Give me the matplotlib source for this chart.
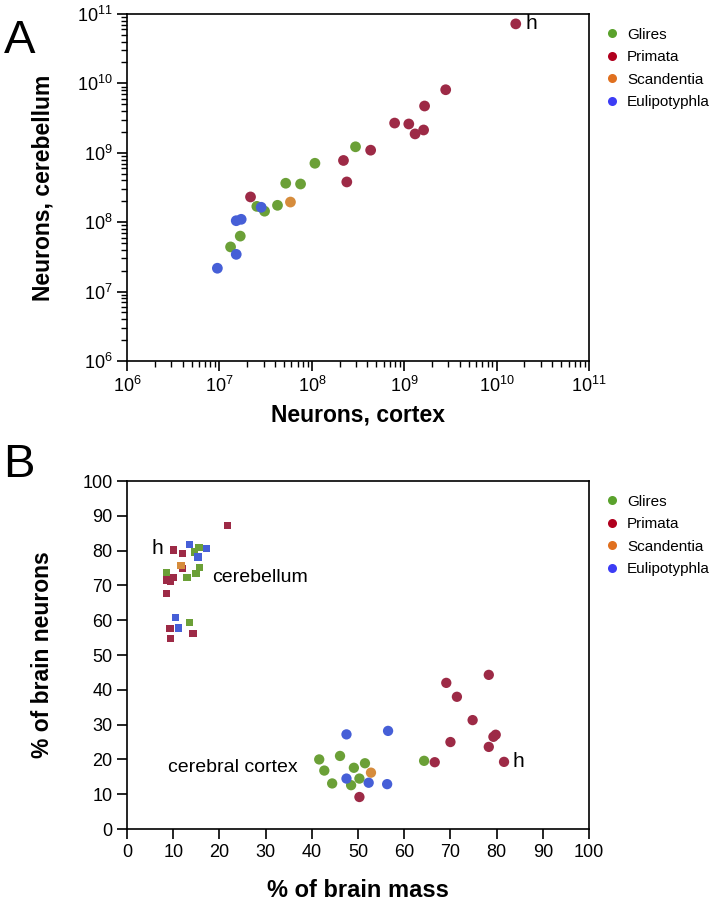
import matplotlib
matplotlib.use("Agg")
import matplotlib.pyplot as plt
import numpy as np
from matplotlib.lines import Line2D
from matplotlib.ticker import LogLocator, NullFormatter

plt.rcParams['font.family'] = ['Liberation Sans', 'DejaVu Sans']
plt.rcParams['mathtext.fontset'] = 'custom'
plt.rcParams['mathtext.rm'] = 'Liberation Sans'

# ---- Panel A: neurons in cortex vs cerebellum ----
glires_ctx = [2.97e8, 1.08e8, 5.22e7, 7.55e7, 4.25e7, 2.54e7, 3.08e7, 1.68e7, 1.32e7]
glires_cb = [1.22e9, 7.06e8, 3.64e8, 3.55e8, 1.75e8, 1.69e8, 1.44e8, 6.3e7, 4.4e7]
primata_ctx = [1.61e10, 2.81e9, 1.66e9, 7.87e8, 1.12e9, 1.62e9, 1.31e9, 4.33e8, 2.2e8, 2.39e8, 2.17e7]
primata_cb = [7.2e10, 8.1e9, 4.72e9, 2.68e9, 2.6e9, 2.13e9, 1.87e9, 1.09e9, 7.75e8, 3.8e8, 2.31e8]
scand_ctx = [5.87e7]
scand_cb = [1.95e8]
euli_ctx = [2.83e7, 1.52e7, 1.72e7, 1.52e7, 9.5e6]
euli_cb = [1.64e8, 1.05e8, 1.1e8, 3.44e7, 2.17e7]

# ---- Panel B: % of brain mass vs % of brain neurons ----
# cerebral cortex (circles)
glires_cx_mass = [41.6, 46.1, 42.7, 49.1, 51.5, 44.4, 48.5, 50.3, 64.3]
glires_cx_neur = [20.0, 21.0, 16.8, 17.6, 18.9, 13.1, 12.6, 14.5, 19.6]
primata_cx_mass = [50.3, 66.6, 69.1, 71.4, 78.3, 74.8, 70.0, 79.8, 79.3, 78.3, 81.6]
primata_cx_neur = [9.2, 19.2, 42.0, 38.0, 44.3, 31.3, 25.0, 27.1, 26.5, 23.6, 19.3]
scand_cx_mass = [52.8]
scand_cx_neur = [16.2]
euli_cx_mass = [47.5, 56.5, 47.5, 52.3, 56.3]
euli_cx_neur = [27.2, 28.2, 14.5, 13.3, 12.9]
# cerebellum (squares)
glires_cb_mass = [15.6, 14.6, 15.7, 14.9, 13.0, 8.6, 13.5]
glires_cb_neur = [80.9, 79.6, 75.1, 73.5, 72.3, 73.8, 59.3]
primata_cb_mass = [21.7, 10.1, 12.0, 12.0, 8.65, 9.4, 10.1, 8.6, 9.3, 14.3, 9.4]
primata_cb_neur = [87.2, 80.2, 79.2, 74.9, 71.6, 71.3, 72.2, 67.7, 57.7, 56.2, 54.8]
scand_cb_mass = [11.7]
scand_cb_neur = [75.8]
euli_cb_mass = [13.5, 17.2, 15.4, 10.5, 11.2]
euli_cb_neur = [81.7, 80.7, 78.2, 60.7, 57.8]

groups = ['Glires', 'Primata', 'Scandentia', 'Eulipotyphla']
pt_colors = ['#6ba037', '#9d2a46', '#d68c3c', '#465fd7']
leg_colors = ['#5aa22c', '#b0001e', '#e0701f', '#3c3cf5']

fig = plt.figure(figsize=(7.16, 9.02), dpi=100)
axA = fig.add_axes([0.1774, 0.5998, 0.6453, 0.3847])
axB = fig.add_axes([0.1774, 0.0809, 0.6453, 0.3858])

def style_axes(ax):
    for s in ax.spines.values():
        s.set_linewidth(1.2)
    ax.tick_params(which='major', direction='out', length=7, width=1.2, labelsize=13)
    ax.tick_params(which='minor', direction='out', length=4, width=1.0)

# panel A
for xs, ys, c in zip([glires_ctx, primata_ctx, scand_ctx, euli_ctx],
                     [glires_cb, primata_cb, scand_cb, euli_cb], pt_colors):
    axA.scatter(xs, ys, s=60, color=c, edgecolors='none', zorder=3)
axA.set_xscale('log')
axA.set_yscale('log')
axA.set_xlim(1e6, 1e11)
axA.set_ylim(1e6, 1e11)
for axis in (axA.xaxis, axA.yaxis):
    axis.set_major_locator(LogLocator(base=10, numticks=20))
    axis.set_minor_locator(LogLocator(base=10, subs=np.arange(2, 10), numticks=100))
    axis.set_minor_formatter(NullFormatter())
style_axes(axA)
axA.set_xlabel('Neurons, cortex', fontsize=16.5, fontweight='bold', labelpad=6)
axA.set_ylabel('Neurons, cerebellum', fontsize=16.5, fontweight='bold', labelpad=16)
axA.annotate('h', xy=(primata_ctx[0], primata_cb[0]), xytext=(7, 0),
             textcoords='offset points', fontsize=15, va='center')

# panel B
for xs, ys, c in zip([glires_cx_mass, primata_cx_mass, scand_cx_mass, euli_cx_mass],
                     [glires_cx_neur, primata_cx_neur, scand_cx_neur, euli_cx_neur], pt_colors):
    axB.scatter(xs, ys, s=55, color=c, edgecolors='none', zorder=3)
for xs, ys, c in zip([glires_cb_mass, primata_cb_mass, scand_cb_mass, euli_cb_mass],
                     [glires_cb_neur, primata_cb_neur, scand_cb_neur, euli_cb_neur], pt_colors):
    axB.scatter(xs, ys, s=28, marker='s', color=c, edgecolors='none', zorder=3)
axB.set_xlim(0, 100)
axB.set_ylim(0, 100)
axB.set_xticks(np.arange(0, 101, 10))
axB.set_yticks(np.arange(0, 101, 10))
style_axes(axB)
axB.set_xlabel('% of brain mass', fontsize=17, fontweight='bold', labelpad=13)
axB.set_ylabel('% of brain neurons', fontsize=16.5, fontweight='bold', labelpad=20)
axB.text(18.4, 72.4, 'cerebellum', fontsize=14, va='center')
axB.text(7.8, 80.7, 'h', fontsize=15, va='center', ha='right')
axB.text(8.9, 17.8, 'cerebral cortex', fontsize=14, va='center')
axB.annotate('h', xy=(primata_cx_mass[-1], primata_cx_neur[-1]), xytext=(6, 0),
             textcoords='offset points', fontsize=15, va='center')

# legends
handles = [Line2D([], [], marker='o', linestyle='none', markersize=6.5,
                  markerfacecolor=c, markeredgecolor='none', label=g)
           for g, c in zip(groups, leg_colors)]
for ax in (axA, axB):
    ax.legend(handles=handles, loc='upper left', bbox_to_anchor=(1.0, 1.0),
              frameon=False, fontsize=11, handletextpad=0.4, labelspacing=0.55,
              borderaxespad=0.5, handlelength=1.2)

fig.text(0.005, 0.955, 'A', fontsize=34, va='center')
fig.text(0.005, 0.485, 'B', fontsize=34, va='center')

plt.savefig('out.png', dpi=100)
plt.close()
